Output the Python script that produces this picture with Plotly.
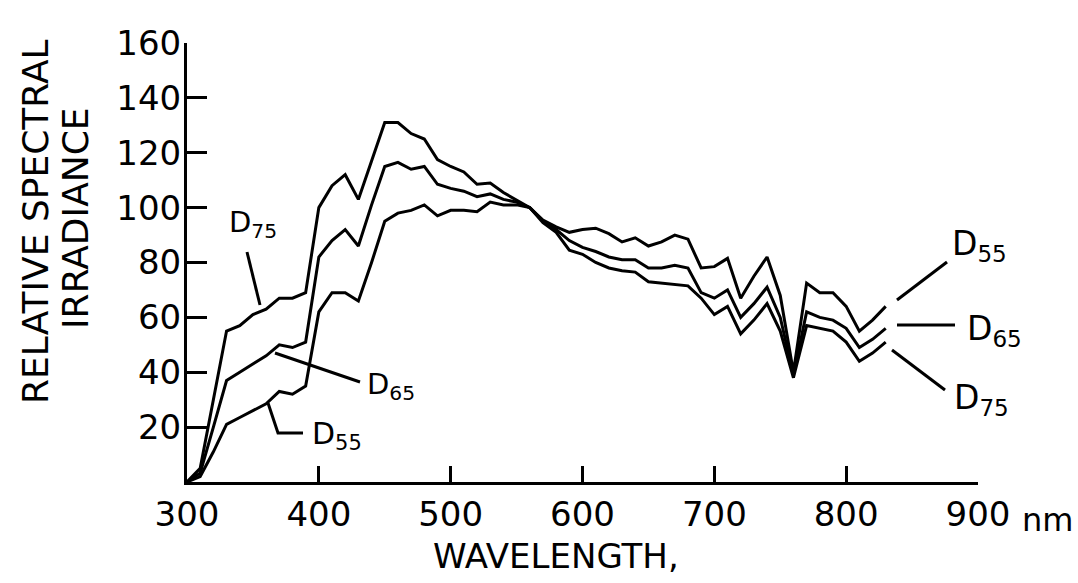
import plotly.graph_objects as go

# ---------------- data ----------------
wavelength = list(range(300, 840, 10))

d55 = [0, 2, 11, 21, 23.5, 26, 28.5, 33, 32, 35,
       62, 69, 69, 66, 80, 95, 98, 99, 101, 97,
       99, 99, 98.5, 102, 101, 101, 100, 95.5, 93, 91,
       92, 92.5, 90.5, 87.5, 89, 86, 87.5, 90, 88.5, 78,
       78.5, 81.5, 67, 75, 82, 68, 40, 72.5, 69, 69,
       64, 55, 59, 64]

d65 = [0, 3.3, 20, 37, 40, 43, 46, 50, 49, 51,
       82, 88, 92, 86, 101, 115, 116.5, 114, 115, 108.5,
       107, 106, 104, 105, 103, 102, 100, 95, 92, 88,
       85.5, 84, 82, 81, 81, 78, 78, 79, 78, 69,
       67, 70, 60, 65, 71, 60, 39, 62, 60, 59,
       56, 49, 52, 56]

d75 = [0, 5, 30, 55, 57, 61, 63, 67, 67, 69,
       100, 108, 112, 103, 117, 131, 131, 127, 125, 117.5,
       115, 113, 108.5, 109, 105.5, 102.8, 100, 94.5, 91, 84.5,
       83, 80, 78, 77, 76.5, 73, 72.5, 72, 71.5, 67,
       61, 64, 54, 59, 65, 55, 38, 57, 56, 55,
       51, 44, 47, 51]

series_names = ["D55", "D65", "D75"]
x_ticks = [300, 400, 500, 600, 700, 800, 900]
x_ticktext = ["300", "400", "500", "600", "700", "800", "900"]
y_ticks = [20, 40, 60, 80, 100, 120, 140, 160]
y_ticktext = ["20", "40", "60", "80", "100", "120", "140", "160"]

# ---------------- layout geometry ----------------
FIG_W, FIG_H = 1078, 583
L, R, T, B = 187, 100, 43, 101
X0, X1 = 300, 900
Y0, Y1 = 0, 160
PW = FIG_W - L - R
PH = FIG_H - T - B


def dx(px):
    return X0 + (px - L) / PW * (X1 - X0)


def dy(py):
    return (FIG_H - B - py) / PH * (Y1 - Y0)


def fx(px):
    return (px - L) / PW


def fy(py):
    return (FIG_H - B - py) / PH


FONT = "DejaVu Sans"
INK = "black"

fig = go.Figure()
for name, vals in zip(series_names, [d55, d65, d75]):
    fig.add_trace(go.Scatter(x=wavelength, y=vals, mode="lines", name=name,
                             line=dict(color=INK, width=3), hoverinfo="skip"))

# leader lines (pixel positions converted to data space)
leaders = [
    [(247, 252), (260, 305)],
    [(275, 353), (360, 382)],
    [(268, 403), (278, 433), (303, 433)],
    [(897, 300), (947, 262)],
    [(897, 325), (955, 325)],
    [(892, 350), (945, 390)],
]
for pts in leaders:
    path = "M " + " L ".join(f"{dx(px)},{dy(py)}" for px, py in pts)
    fig.add_shape(type="path", path=path, xref="x", yref="y",
                  line=dict(color=INK, width=3))

labels = [
    ("75", 227, 224, 29),
    ("65", 365, 386, 29),
    ("55", 310, 435, 30),
    ("55", 950, 245, 33),
    ("65", 965, 330, 33),
    ("75", 952, 399, 33),
]
for sub, px, py, size in labels:
    fig.add_annotation(x=fx(px), y=fy(py), xref="paper", yref="paper",
                       text=f"D<sub>{sub}</sub>", showarrow=False,
                       xanchor="left", yanchor="middle",
                       font=dict(family=FONT, size=size, color=INK))

# axis titles
fig.add_annotation(x=fx(35), y=fy(222), xref="paper", yref="paper",
                   text="RELATIVE SPECTRAL", textangle=-90, showarrow=False,
                   xanchor="center", yanchor="middle",
                   font=dict(family=FONT, size=36, color=INK))
fig.add_annotation(x=fx(75), y=fy(218), xref="paper", yref="paper",
                   text="IRRADIANCE", textangle=-90, showarrow=False,
                   xanchor="center", yanchor="middle",
                   font=dict(family=FONT, size=36, color=INK))
fig.add_annotation(x=fx(556), y=fy(556), xref="paper", yref="paper",
                   text="WAVELENGTH,", showarrow=False,
                   xanchor="center", yanchor="middle",
                   font=dict(family=FONT, size=34, color=INK))
fig.add_annotation(x=fx(1020), y=fy(520), xref="paper", yref="paper",
                   text="nm", showarrow=False,
                   xanchor="left", yanchor="middle",
                   font=dict(family=FONT, size=32, color=INK))

fig.update_layout(
    width=FIG_W, height=FIG_H,
    margin=dict(l=L, r=R, t=T, b=B, pad=0),
    paper_bgcolor="white", plot_bgcolor="white",
    showlegend=False,
    xaxis=dict(range=[X0, X1], showgrid=False, zeroline=False,
               showline=True, linecolor=INK, linewidth=3,
               ticks="inside", ticklen=16, tickwidth=3, tickcolor=INK,
               tickvals=x_ticks, ticktext=x_ticktext,
               tickfont=dict(family=FONT, size=34, color=INK)),
    yaxis=dict(range=[Y0, Y1], showgrid=False, zeroline=False,
               showline=True, linecolor=INK, linewidth=3,
               ticks="inside", ticklen=20, tickwidth=3, tickcolor=INK,
               ticklabelstandoff=-4,
               tickvals=y_ticks, ticktext=y_ticktext,
               tickfont=dict(family=FONT, size=34, color=INK)),
)

fig.write_html("out.html")
